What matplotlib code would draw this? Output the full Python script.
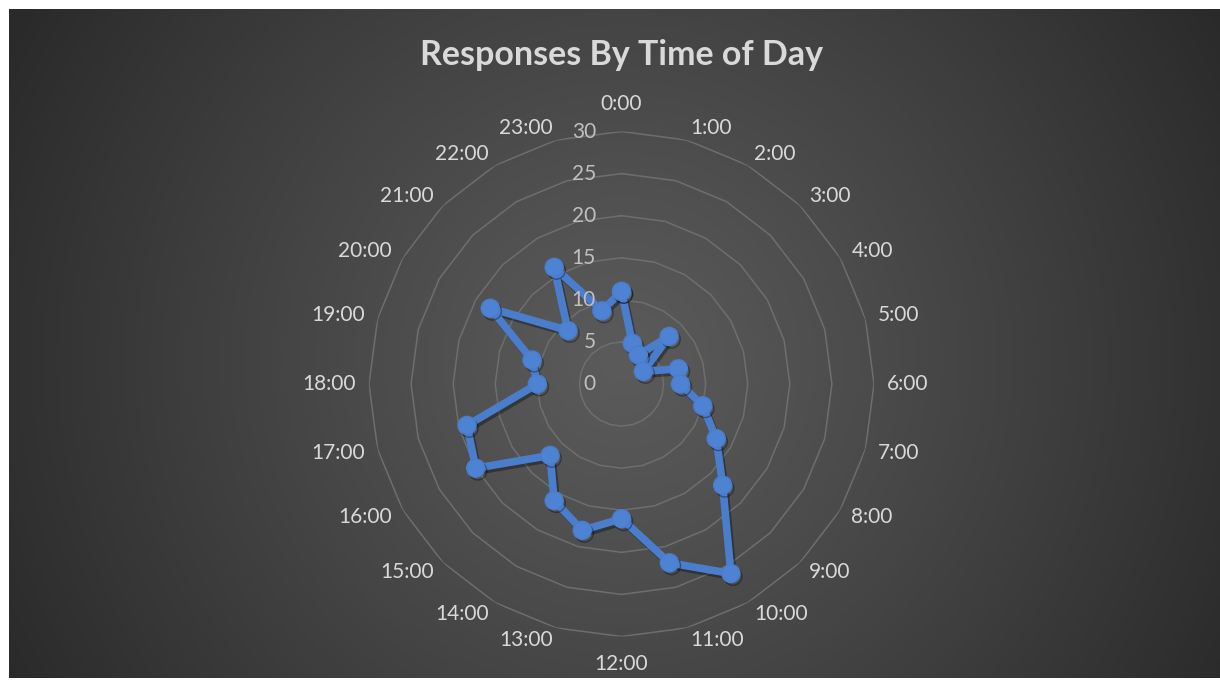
import numpy as np
import matplotlib
matplotlib.use("Agg")
import matplotlib.pyplot as plt
import matplotlib.patheffects as pe

# ---- data ----
hours = [f"{h}:00" for h in range(24)]
responses = [11, 5, 4, 8, 3, 7, 7, 10, 13, 17, 26, 22, 16, 18, 16, 12, 20, 19, 10, 11, 18, 9, 16, 9]
r_ticks = [0, 5, 10, 15, 20, 25, 30]
title = "Responses By Time of Day"

W, H = 1220, 683
DPI = 100
fig = plt.figure(figsize=(W / DPI, H / DPI), dpi=DPI, facecolor="white")
plt.rcParams['font.family'] = ['Lato', 'DejaVu Sans']

# background with radial gradient
bx0, by0, bx1, by1 = 9, 9, 1220, 678  # pixel box (from top)
bg = fig.add_axes([bx0 / W, (H - by1) / H, (bx1 - bx0) / W, (by1 - by0) / H])
bg.set_axis_off()
nx, ny = bx1 - bx0, by1 - by0
yy, xx = np.mgrid[0:ny, 0:nx]
cxp, cyp = 621 - bx0, 360 - by0
d = np.sqrt((xx - cxp) ** 2 + (yy - cyp) ** 2)
d = d / np.sqrt((nx - cxp) ** 2 + cyp ** 2)
d = np.clip(d, 0, 1)
c_in = np.array([0x5b, 0x5b, 0x5b]) / 255
c_out = np.array([0x2a, 0x2a, 0x2a]) / 255
t = d ** 1.1
img = c_in[None, None, :] * (1 - t[..., None]) + c_out[None, None, :] * t[..., None]
bg.imshow(img, aspect="auto", extent=[0, 1, 0, 1], interpolation="bilinear")
bg.set_xlim(0, 1)
bg.set_ylim(0, 1)

# polar axes
cx, cy, R = 621.5, 384.0, 252.5
ax = fig.add_axes([(cx - R) / W, (H - cy - R) / H, 2 * R / W, 2 * R / H], projection="polar")
ax.set_facecolor("none")
ax.set_theta_zero_location("N")
ax.set_theta_direction(-1)
ax.set_ylim(0, 30)
ax.grid(False)
ax.spines["polar"].set_visible(False)
ax.set_xticks([])
ax.set_yticks([])

n = len(hours)
theta = np.arange(n) * 2 * np.pi / n
theta_c = np.append(theta, theta[0])

grid_col = "#6e6e6e"
for rv in r_ticks[1:]:
    ax.plot(theta_c, [rv] * (n + 1), color=grid_col, lw=1.1, zorder=1)

vals = np.append(responses, responses[0])
ax.plot(theta_c, vals, color="#4a7dcc", lw=5.5, marker="o", markersize=13,
        markerfacecolor="#4e82d2", markeredgecolor="#4a7dcc", solid_joinstyle="round",
        zorder=5,
        path_effects=[pe.SimpleLineShadow(offset=(1.5, -2), shadow_color="black", alpha=0.35),
                      pe.Normal()])

px2pt = 72 / DPI
# category labels
lab_col = "#d9d9d9"
for th, lab in zip(theta, hours):
    s, c = np.sin(th), np.cos(th)
    if abs(s) < 1e-6:
        off = 18
        ha = "center"
        va = "bottom" if c > 0 else "top"
    else:
        off = 13
        ha = "left" if s > 0 else "right"
        va = "center"
    ax.annotate(lab, xy=(th, 30), xytext=(off * s * px2pt, off * c * px2pt),
                textcoords="offset points", ha=ha, va=va, fontsize=15, color=lab_col,
                annotation_clip=False, zorder=7)

# radial labels (drawn above the series)
for rv in r_ticks:
    ax.annotate(str(rv), xy=(0, rv), xytext=(-25.5 * px2pt, 0), textcoords="offset points",
                ha="right", va="center", fontsize=15, color="#bfbfbf", annotation_clip=False,
                zorder=7)

fig.text(621 / W, (H - 65) / H, title, ha="center", va="baseline", fontsize=24.5,
         fontweight="bold", color="#d9d9d9")

fig.savefig("out.png", dpi=DPI, facecolor="white")
